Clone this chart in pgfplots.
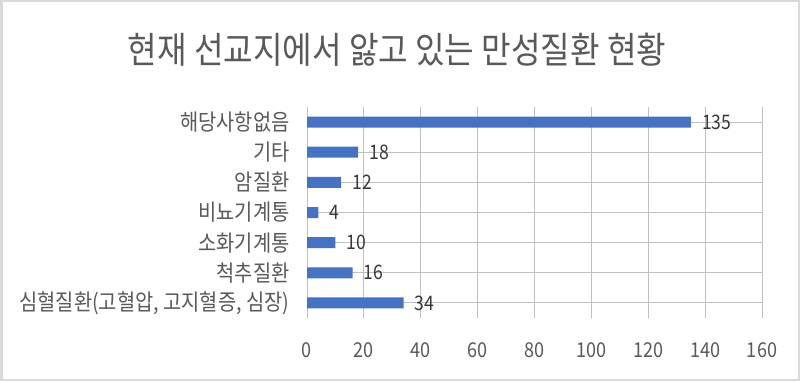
\documentclass[border=0pt]{standalone}
\usepackage{fontspec}
\setmainfont{Noto Sans CJK KR}[FakeStretch=0.88]
\usepackage{pgfplots}
\pgfplotsset{compat=1.18}
\definecolor{barblue}{HTML}{4472C4}
\definecolor{txt}{HTML}{595959}
\definecolor{grid}{HTML}{D9D9D9}
\begin{document}
\begin{tikzpicture}
\useasboundingbox (0,0) rectangle (800pt,381pt);
\fill[white] (0,0) rectangle (800pt,381pt);
\draw[grid, line width=2.5pt] (1.25pt,1.25pt) rectangle (798.75pt,379.75pt);
\node[txt, font=\fontsize{36.5}{40}\selectfont] at (397pt,331pt) {현재 선교지에서 앓고 있는 만성질환 현황};
\begin{axis}[
  at={(307pt,63pt)}, anchor=south west,
  scale only axis, width=455pt, height=211pt,
  xbar, bar width=11pt,
  xmin=0, xmax=160, xtick={0,20,...,160},
  ymin=-0.5, ymax=6.5,
  ytick={0,...,6},
  yticklabels={심혈질환(고혈압{,} 고지혈증{,} 심장),척추질환,소화기계통,비뇨기계통,암질환,기타,해당사항없음},
  xmajorgrids, grid style={grid, line width=1pt},
  axis line style={draw=none},
  major tick length=0pt,
  tick style={draw=none},
  /pgf/number format/assume math mode=true,
  ticklabel style={text=txt},
  xticklabel style={font=\fontsize{20.5}{22}\selectfont, yshift=-21pt},
  yticklabel style={font=\fontsize{22.5}{24}\selectfont, xshift=-14pt},
  nodes near coords,
  nodes near coords style={font=\fontsize{20}{22}\selectfont, text=black!78, anchor=west, inner sep=0pt, xshift=11pt},
]
\addplot[fill=barblue, draw=none] coordinates {(34,0) (16,1) (10,2) (4,3) (12,4) (18,5) (135,6)};
\end{axis}
\end{tikzpicture}
\end{document}
